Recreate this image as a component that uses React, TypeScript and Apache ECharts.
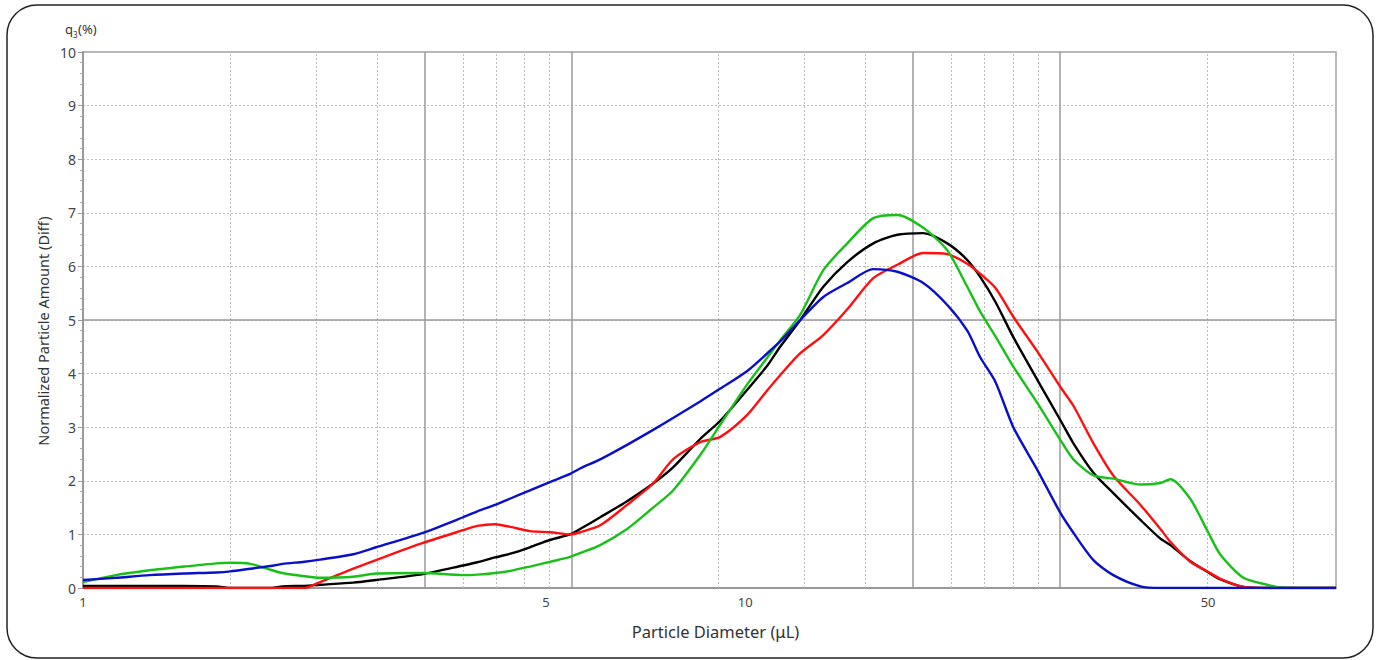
import React, { useEffect, useRef } from "react";
import * as echarts from "echarts";

// Particle diameters (x values, log axis)
const diameters = [
  1.0, 1.12, 1.26, 1.42, 1.59, 1.67, 1.79, 1.92, 2.0, 2.16,
  2.28, 2.56, 2.77, 3.26, 3.75, 3.94, 4.19, 4.42, 4.73, 5.08,
  5.44, 5.63, 6.04, 6.63, 7.26, 7.78, 8.55, 9.17, 10.07, 10.8,
  11.29, 12.11, 13.12, 14.26, 15.61, 16.97, 18.57, 20.19, 21.64, 22.65,
  23.86, 25.4, 27.62, 29.92, 31.3, 33.56, 35.96, 39.52, 42.36, 43.85,
  47.01, 50.05, 52.19, 56.54, 61.44, 64.3, 78,
];

const seriesBlack = [
  0.04, 0.04, 0.04, 0.04, 0.03, 0, 0, 0, 0.03, 0.04,
  0.06, 0.1, 0.15, 0.26, 0.42, 0.48, 0.57, 0.64, 0.76, 0.9,
  1.0, 1.1, 1.32, 1.62, 1.95, 2.25, 2.78, 3.12, 3.7, 4.15,
  4.5, 5.0, 5.62, 6.08, 6.43, 6.59, 6.62, 6.43, 6.12, 5.8,
  5.34, 4.68, 3.88, 3.13, 2.7, 2.15, 1.77, 1.27, 0.92, 0.8,
  0.5, 0.29, 0.16, 0.02, 0, 0, 0,
];

const seriesRed = [
  0, 0, 0, 0, 0, 0, 0, 0, 0, 0,
  0.11, 0.36, 0.52, 0.84, 1.08, 1.16, 1.19, 1.14, 1.06, 1.04,
  1.0, 1.04, 1.17, 1.55, 1.95, 2.4, 2.72, 2.82, 3.23, 3.69,
  3.97, 4.38, 4.72, 5.2, 5.78, 6.03, 6.25, 6.23, 6.05, 5.86,
  5.6, 5.06, 4.41, 3.75, 3.4, 2.7, 2.1, 1.55, 1.1, 0.86,
  0.49, 0.3, 0.17, 0.02, 0, 0, 0,
];

const seriesGreen = [
  0.11, 0.24, 0.33, 0.4, 0.46, 0.47, 0.45, 0.34, 0.28, 0.22,
  0.19, 0.21, 0.27, 0.28, 0.24, 0.25, 0.28, 0.32, 0.4, 0.49,
  0.58, 0.65, 0.8, 1.1, 1.5, 1.82, 2.48, 3.05, 3.8, 4.3,
  4.62, 5.1, 5.93, 6.43, 6.9, 6.96, 6.72, 6.3, 5.62, 5.15,
  4.7, 4.13, 3.45, 2.76, 2.4, 2.1, 2.04, 1.93, 1.96, 2.03,
  1.66, 1.03, 0.62, 0.19, 0.06, 0.01, 0,
];

const seriesBlue = [
  0.15, 0.19, 0.24, 0.27, 0.29, 0.31, 0.36, 0.41, 0.45, 0.49,
  0.53, 0.63, 0.76, 1.03, 1.32, 1.43, 1.55, 1.67, 1.82, 1.98,
  2.13, 2.23, 2.4, 2.67, 2.95, 3.17, 3.48, 3.72, 4.05, 4.38,
  4.6, 5.0, 5.43, 5.69, 5.95, 5.9, 5.69, 5.28, 4.8, 4.3,
  3.85, 3.0, 2.2, 1.4, 1.03, 0.52, 0.24, 0.03, 0, 0,
  0, 0, 0, 0, 0, 0, 0,
];

const xTickLabels = [1, 5, 10, 50];
const minorGrid = [2, 3, 4, 6, 7, 8, 9, 20, 30, 40, 60, 70, 80, 90, 200, 300];
const majorGrid = [5, 10, 50, 100];
const majorHorizontal = [5];

const FONT = "'Noto Sans', 'Open Sans', sans-serif";

export default function App() {
  const ref = useRef<HTMLDivElement>(null);

  useEffect(() => {
    const chart = echarts.init(ref.current!, null, { renderer: "svg" });
    const pair = (ys: number[]) => diameters.map((d, i) => [d, ys[i]]);
    const mk = (name: string, color: string, ys: number[]) => ({
      type: "line",
      name,
      data: pair(ys),
      showSymbol: false,
      symbol: "none",
      smooth: 0.25,
      z: 3,
      silent: true,
      lineStyle: { color, width: 2.4 },
      itemStyle: { color },
    });

    chart.setOption({
      animation: false,
      backgroundColor: "#ffffff",
      grid: {
        left: 83,
        top: 52,
        width: 1253,
        height: 536,
        show: true,
        borderColor: "#a0a0a0",
        borderWidth: 1.5,
      },
      xAxis: [
        {
          type: "log",
          logBase: 10,
          min: 1,
          max: 78,
          name: "Particle Diameter (μL)",
          nameLocation: "middle",
          nameGap: 35,
          nameTextStyle: { fontFamily: FONT, fontSize: 16.5, color: "#333", padding: [0, 0, 0, 12] },
          axisLine: { show: true, lineStyle: { color: "#999", width: 2 } },
          axisTick: { show: false },
          splitLine: { show: false },
          minorTick: { show: false },
          axisLabel: {
            customValues: xTickLabels,
            fontFamily: FONT,
            fontSize: 13,
            color: "#444",
            margin: 7,
          },
        },
        {
          type: "log",
          logBase: 10,
          min: 1,
          max: 367,
          show: false,
        },
      ],
      yAxis: {
        type: "value",
        min: 0,
        max: 10,
        interval: 1,
        axisLine: { show: true, lineStyle: { color: "#999", width: 2 } },
        axisTick: { show: true, length: 5, lineStyle: { color: "#999" } },
        minorTick: { show: true, splitNumber: 5, length: 3, lineStyle: { color: "#aaa" } },
        axisLabel: { fontFamily: FONT, fontSize: 14, color: "#444", margin: 7 },
        splitLine: { show: true, lineStyle: { color: "#bdbdbd", type: [2, 2], width: 1 } },
      },
      graphic: [
        {
          type: "rect",
          shape: { x: 7, y: 5, width: 1366, height: 653, r: 30 },
          style: { fill: "none", stroke: "#222", lineWidth: 1.5 },
          silent: true,
        },
        {
          type: "text",
          x: 43,
          y: 331,
          rotation: Math.PI / 2,
          style: {
            text: "Normalized Particle Amount (Diff)",
            fontFamily: FONT,
            fontSize: 14.5,
            fill: "#333",
            align: "center",
            verticalAlign: "middle",
          },
          silent: true,
        },
        {
          type: "text",
          left: 65,
          top: 22,
          style: { text: "q", fontFamily: FONT, fontSize: 13, fill: "#333" },
        },
        {
          type: "text",
          left: 73,
          top: 30,
          style: { text: "3", fontFamily: FONT, fontSize: 8, fill: "#333" },
        },
        {
          type: "text",
          left: 78,
          top: 22,
          style: { text: "(%)", fontFamily: FONT, fontSize: 13, fill: "#333" },
        },
      ],
      series: [
        {
          type: "line",
          xAxisIndex: 1,
          data: [[1, 0]],
          showSymbol: false,
          symbol: "none",
          lineStyle: { width: 0 },
          silent: true,
          z: 1,
          markLine: {
            silent: true,
            symbol: "none",
            z: 1,
            label: { show: false },
            lineStyle: { color: "#bdbdbd", type: [2, 2], width: 1 },
            data: minorGrid.map((v) => ({ xAxis: v })),
          },
        },
        {
          type: "line",
          xAxisIndex: 1,
          data: [[1, 0]],
          showSymbol: false,
          symbol: "none",
          lineStyle: { width: 0 },
          silent: true,
          z: 1,
          markLine: {
            silent: true,
            symbol: "none",
            z: 1,
            label: { show: false },
            lineStyle: { color: "#9a9a9a", type: "solid", width: 1.5 },
            data: [
              ...majorGrid.map((v) => ({ xAxis: v })),
              ...majorHorizontal.map((v) => ({ yAxis: v })),
            ],
          },
        },
        mk("Black", "#000000", seriesBlack),
        mk("Red", "#ff1010", seriesRed),
        mk("Green", "#18c018", seriesGreen),
        mk("Blue", "#0a10c8", seriesBlue),
      ],
    });

    return () => chart.dispose();
  }, []);

  return (
    <div
      ref={ref}
      style={{ position: "absolute", left: 0, top: 0, width: 1382, height: 660, background: "#fff" }}
    />
  );
}
